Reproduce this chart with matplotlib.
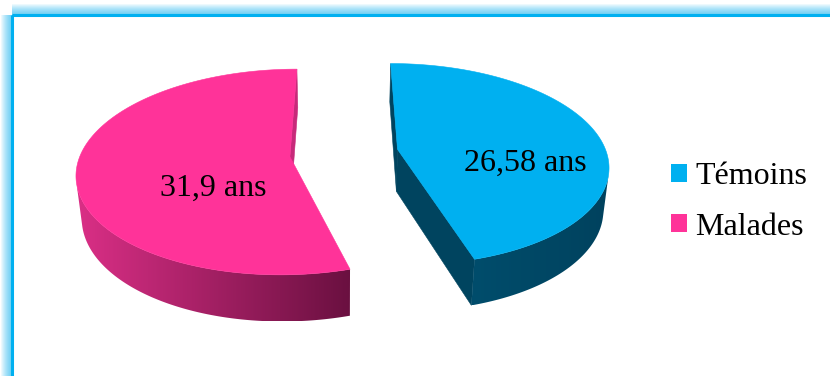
"""Exploded 3D pie of mean age per group, drawn with a small perspective projection."""
import matplotlib
matplotlib.use("Agg")
import matplotlib.pyplot as plt
import numpy as np
from matplotlib.colors import LinearSegmentedColormap
from matplotlib.patches import Patch, Polygon, Rectangle

groups = ["Témoins", "Malades"]
ages = [26.58, 31.9]
top_colors = ["#00B0F0", "#FF3399"]
wall_colors = [("#004D6C", "#00425E"), ("#DA2F86", "#6A1040")]
cut_colors = ["#00445F", "#C72A7A"]

W, H = 830, 376
FONT = "Liberation Serif"

# camera and slab geometry (radius = 1)
TILT = np.radians(30)
DIST = 5.86
SCALE_X, SCALE_Y = 1225, 1166
ORIGIN = (344, 153)
THICK = 0.25
EXPLODE = 0.26
CAM = np.array([0.0, np.sin(TILT) * DIST, np.cos(TILT) * DIST])


def project(X, Y, Z):
    depth = DIST - (Y * np.sin(TILT) + Z * np.cos(TILT))
    u = X / depth
    v = (Y * np.cos(TILT) - Z * np.sin(TILT)) / depth
    return np.column_stack([ORIGIN[0] + SCALE_X * u, ORIGIN[1] - SCALE_Y * v])


def rim(center, theta, y):
    theta = np.atleast_1d(theta)
    return (center[0] + np.sin(theta), np.full_like(theta, y), center[2] - np.cos(theta))


def add_gradient(ax, poly_xy, c_left, c_right, z):
    patch = Polygon(poly_xy, closed=True, facecolor="none", edgecolor="none", zorder=z)
    ax.add_patch(patch)
    cmap = LinearSegmentedColormap.from_list("wall", [c_left, c_right])
    x0, x1 = poly_xy[:, 0].min(), poly_xy[:, 0].max()
    y0, y1 = poly_xy[:, 1].min(), poly_xy[:, 1].max()
    im = ax.imshow(np.linspace(0, 1, 256)[None, :], cmap=cmap, aspect="auto",
                   extent=(x0, x1, y1, y0), zorder=z, interpolation="bilinear")
    im.set_clip_path(patch)


fig = plt.figure(figsize=(W / 100, H / 100), dpi=100)
ax = fig.add_axes([0, 0, 1, 1])

# outer frame with a soft glow outside
fx, fy = 12, 15
for w in range(22, 2, -2):
    ax.add_patch(Rectangle((fx, fy), 1000, 600, fill=False, edgecolor="#00B0F0",
                           linewidth=w * 0.72, alpha=0.07, zorder=0))
ax.add_patch(Rectangle((fx, fy), 1000, 600, facecolor="white", edgecolor="none", zorder=1))
ax.add_patch(Rectangle((fx, fy), 1000, 600, fill=False, edgecolor="#00B0F0",
                       linewidth=2.2, zorder=2))

fracs = np.array(ages) / sum(ages)
bounds = np.concatenate([[0.0], np.cumsum(fracs)]) * 2 * np.pi

for i in range(len(ages)):
    a0, a1 = bounds[i], bounds[i + 1]
    mid = (a0 + a1) / 2
    c = np.array([EXPLODE * np.sin(mid), 0.0, -EXPLODE * np.cos(mid)])

    # radial cut faces
    for ang, sign in ((a0, -1), (a1, 1)):
        normal = sign * np.array([np.cos(ang), 0.0, np.sin(ang)])
        if np.dot(CAM - c, normal) <= 0:
            continue
        et = rim(c, ang, 0.0)
        eb = rim(c, ang, -THICK)
        pts = np.vstack([
            project(c[0], 0.0, c[2]), project(*et), project(*eb),
            project(c[0], -THICK, c[2]),
        ])
        ax.add_patch(Polygon(pts, closed=True, facecolor=cut_colors[i],
                             edgecolor=cut_colors[i], linewidth=0.4, zorder=3))

    # curved outer wall, only the part facing the camera
    th = np.linspace(a0, a1, 500)
    X, Y, Z = rim(c, th, 0.0)
    facing = (CAM[0] - X) * np.sin(th) + (CAM[2] - Z) * (-np.cos(th)) > 0
    idx = np.flatnonzero(facing)
    if idx.size:
        runs = np.split(idx, np.flatnonzero(np.diff(idx) > 1) + 1)
        for run in runs:
            t = th[run]
            top = project(*rim(c, t, 0.0))
            bot = project(*rim(c, t, -THICK))
            add_gradient(ax, np.vstack([top, bot[::-1]]), *wall_colors[i], z=4)

    # top face
    th = np.linspace(a0, a1, 400)
    face = np.vstack([project(c[0], 0.0, c[2]), project(*rim(c, th, 0.0))])
    ax.add_patch(Polygon(face, closed=True, facecolor=top_colors[i],
                         edgecolor=top_colors[i], linewidth=0.4, zorder=5))

# value labels
label_pos = [(525, 171), (213, 196)]
for val, (lx, ly) in zip(ages, label_pos):
    ax.text(lx, ly, f"{val:g} ans".replace(".", ","), ha="center", va="baseline",
            fontsize=23, family=FONT, color="black", zorder=6)

handles = [Patch(facecolor=col, edgecolor="none") for col in top_colors]
ax.legend(handles, groups, loc="upper left", bbox_to_anchor=(671, 162),
          bbox_transform=ax.transData, frameon=False,
          prop={"family": FONT, "size": 23}, handlelength=0.5, handleheight=0.5,
          handletextpad=0.25, labelspacing=0.68, borderpad=0, borderaxespad=0)

ax.set_xlim(0, W)
ax.set_ylim(H, 0)
ax.axis("off")
fig.savefig("out.png", dpi=100, facecolor="white")
